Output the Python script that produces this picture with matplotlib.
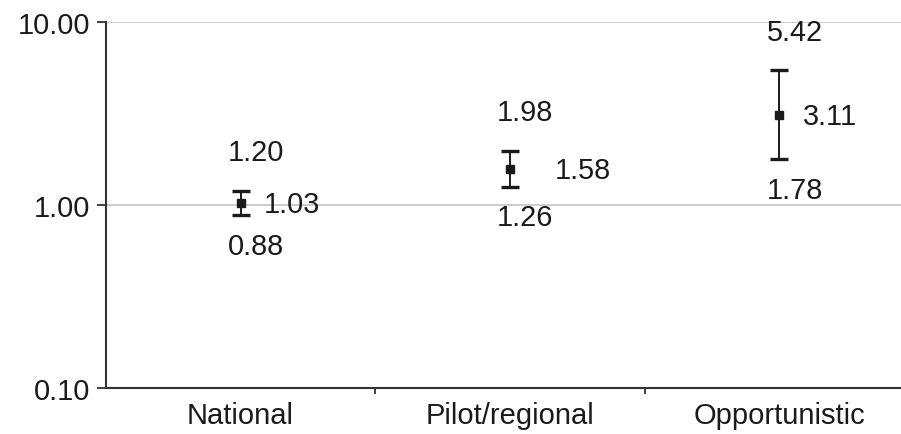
#!/usr/bin/env python3

from matplotlib import pyplot as plt
from matplotlib.ticker import FixedLocator, NullFormatter
import numpy as np

categories = ["National", "Pilot/regional", "Opportunistic"]
means = [1.03, 1.58, 3.11]
lower = [0.88, 1.26, 1.78]
upper = [1.20, 1.98, 5.42]

# horizontal offset (points) of the mean label, as placed in the original
mean_label_dx = [17, 32, 17]


def main():
    plt.rcParams["font.family"] = ["Liberation Sans", "DejaVu Sans"]
    fig = plt.figure(figsize=(9.01, 4.35), dpi=100)
    ax = fig.add_axes([0.1176, 0.1050, 1 - 0.1176, 0.8428])

    xs = np.arange(len(categories))
    means_a = np.array(means)
    yerr = [means_a - np.array(lower), np.array(upper) - means_a]

    ax.errorbar(
        xs, means_a, yerr=yerr, fmt="s", color="#1a1a1a", ecolor="#1a1a1a",
        markersize=6, elinewidth=1.4, capsize=6.5, capthick=2.4, zorder=3,
    )

    fs = 20.8
    tc = "#1a1a1a"
    for x, m, lo, hi, dx in zip(xs, means, lower, upper, mean_label_dx):
        ax.annotate(f"{hi:.2f}", (x, hi), xytext=(11, 28), textcoords="offset points",
                    ha="center", va="center", fontsize=fs, color=tc)
        ax.annotate(f"{lo:.2f}", (x, lo), xytext=(11, -22), textcoords="offset points",
                    ha="center", va="center", fontsize=fs, color=tc)
        ax.annotate(f"{m:.2f}", (x, m), xytext=(dx, -1), textcoords="offset points",
                    ha="left", va="center", fontsize=fs, color=tc)

    ax.set_yscale("log")
    ax.set_ylim(0.1, 10)
    ax.set_yticks([0.1, 1, 10])
    ax.set_yticklabels(["0.10", "1.00", "10.00"])
    ax.yaxis.set_minor_locator(FixedLocator([]))
    ax.yaxis.set_minor_formatter(NullFormatter())
    ax.set_xlim(-0.5, 2.452)
    ax.set_xticks(xs)
    ax.set_xticklabels(categories)
    ax.set_xticks([0.5, 1.5], minor=True)

    ax.grid(axis="y", which="major", color="#c8c8c8", linewidth=1.3)
    ax.set_axisbelow(True)
    for side in ["top", "right"]:
        ax.spines[side].set_visible(False)
    for side in ["left", "bottom"]:
        ax.spines[side].set_color("#333333")
        ax.spines[side].set_linewidth(1.5)

    ax.tick_params(axis="y", which="major", length=6.5, width=1.3, color="#333333",
                   labelsize=fs, labelcolor=tc, pad=5)
    ax.tick_params(axis="x", which="major", length=0, labelsize=21, labelcolor=tc, pad=9)
    ax.tick_params(axis="x", which="minor", length=4, width=1.3, color="#333333")

    fig.savefig("out.png", dpi=100)


if __name__ == "__main__":
    main()
